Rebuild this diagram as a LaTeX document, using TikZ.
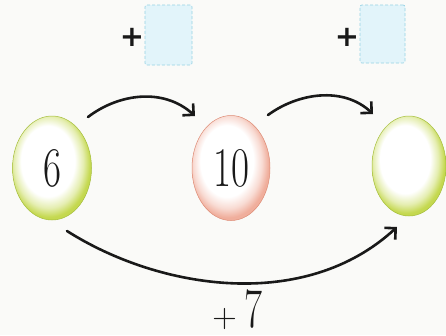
\documentclass[tikz,border=0pt]{standalone}
\usepackage{graphicx}
\usepackage{fontspec}
\newfontfamily\plusfont{DejaVu Sans}
\usetikzlibrary{shapes.geometric,arrows.meta}
\definecolor{bg}{RGB}{250,250,248}
\definecolor{eggG}{RGB}{190,212,60}
\definecolor{eggGd}{RGB}{165,190,60}
\definecolor{eggR}{RGB}{238,165,145}
\definecolor{eggRd}{RGB}{222,140,118}
\definecolor{boxfill}{RGB}{226,244,250}
\definecolor{boxline}{RGB}{150,210,228}
\definecolor{ink}{RGB}{25,25,25}
\pgfdeclareradialshading{greenegg}{\pgfpoint{-4bp}{5bp}}{color(0bp)=(white); color(17bp)=(white); color(22bp)=(eggG!40!white); color(26bp)=(eggG!90!white); color(50bp)=(eggG)}
\pgfdeclareradialshading{redegg}{\pgfpoint{-4bp}{5bp}}{color(0bp)=(white); color(17bp)=(white); color(22bp)=(eggR!40!white); color(26bp)=(eggR!90!white); color(50bp)=(eggR)}
\newcommand\bigdigits[1]{\scalebox{0.7}[1]{\fontsize{56}{56}\selectfont #1}}
\begin{document}
\begin{tikzpicture}[x=1pt,y=-1pt,
  egg/.style={ellipse, inner sep=0pt, line width=0.5pt, text=ink},
  greeneggbox/.style={egg, shading=greenegg, draw=eggGd},
  redeggbox/.style={egg, shading=redegg, draw=eggRd},
  qbox/.style={draw=boxline, densely dashed, fill=boxfill, rounded corners=2pt, line width=0.7pt, inner sep=0pt},
  plussign/.style={inner sep=0pt, text=ink, font=\plusfont\bfseries\fontsize{29}{29}\selectfont},
  arr/.style={draw=ink, line width=2.6pt, line cap=round, -{Straight Barb[length=8pt,width=16pt,line width=2.6pt]}}
]
\useasboundingbox (0,0) rectangle (446,335);
\fill[bg] (0,0) rectangle (446,335);

\node[greeneggbox, minimum width=79pt, minimum height=104pt] (e1) at (52,168) {\bigdigits{6}};
\node[redeggbox, minimum width=78pt, minimum height=105pt] (e2) at (231,168) {\bigdigits{10}};
\node[greeneggbox, minimum width=74pt, minimum height=100pt] (e3) at (409,166) {};

\node[plussign] (p1) at (132,37) {+};
\node[qbox, minimum width=47pt, minimum height=60pt] (b1) at (168.5,35) {};
\node[plussign] (p2) at (347,37) {+};
\node[qbox, minimum width=45pt, minimum height=58pt] (b2) at (382.5,34) {};

\node[anchor=base, inner sep=0pt, text=ink] (lbl) at (237.5,327) {{\fontsize{34}{34}\selectfont +}\hspace{8pt}\bigdigits{7}};

\draw[arr] ([shift={(36,-51)}]e1.center) .. controls (118,94) and (163,87) .. ([shift={(-36,-52)}]e2.center);
\draw[arr] ([shift={(37,-53)}]e2.center) .. controls (298,93) and (343,86) .. ([shift={(-36,-52)}]e3.center);
\draw[arr] ([shift={(15,63)}]e1.center) .. controls (160,290) and (305,312) .. ([shift={(-12,61)}]e3.center);
\end{tikzpicture}
\end{document}
